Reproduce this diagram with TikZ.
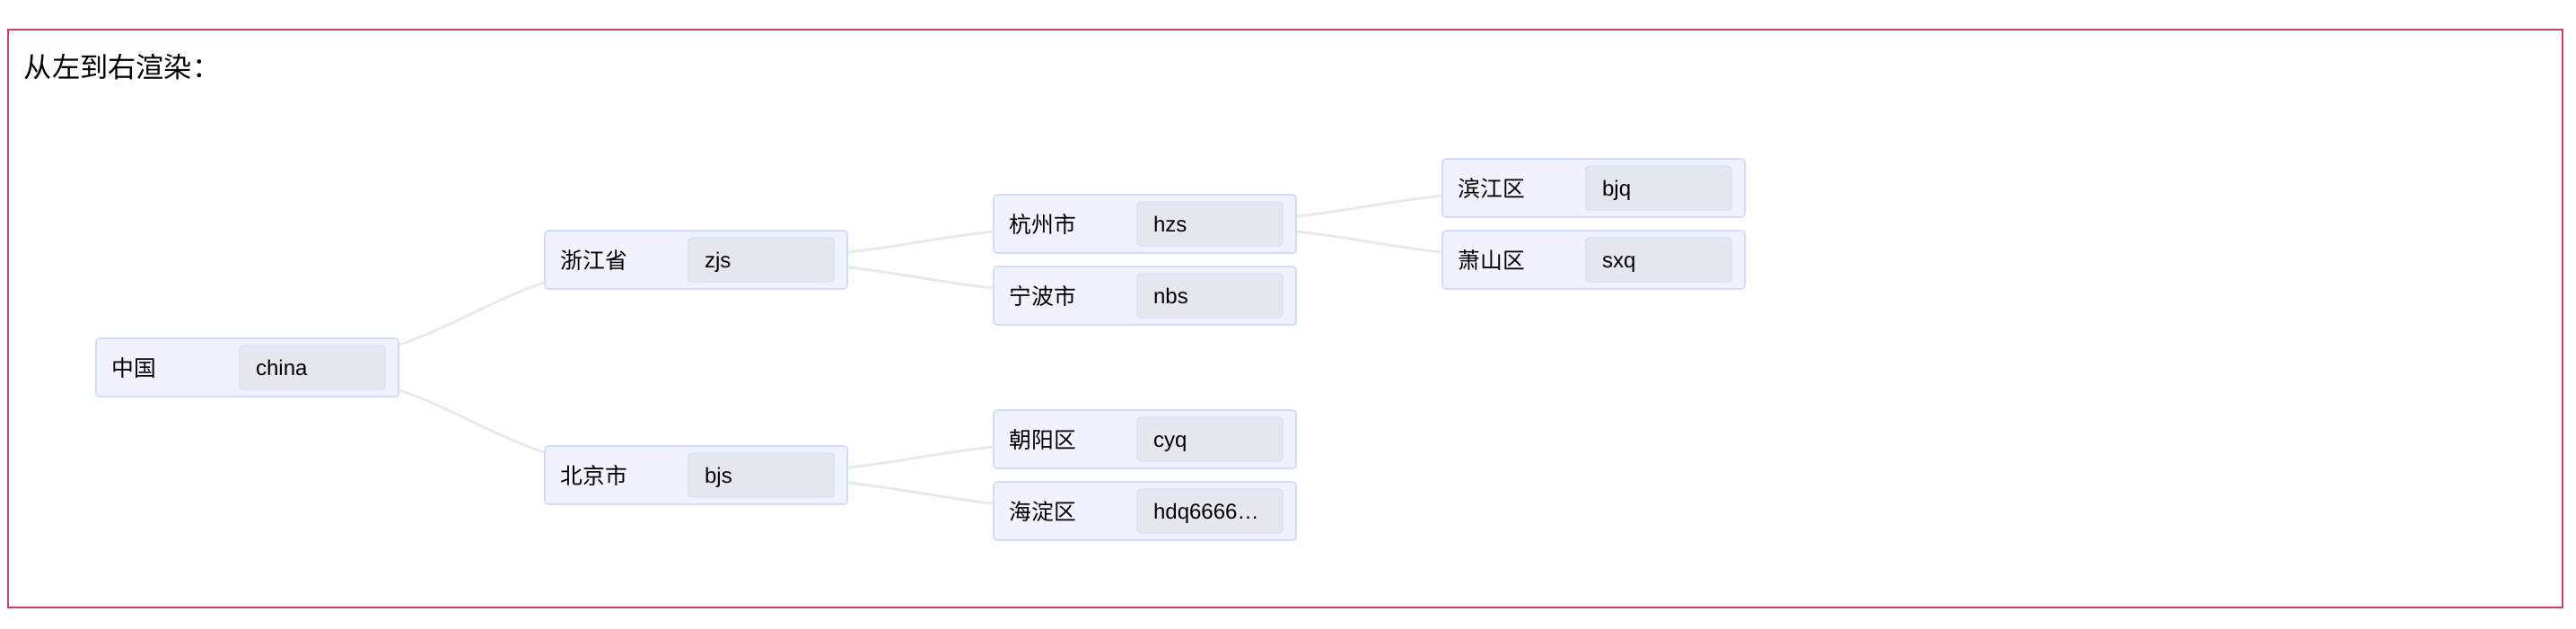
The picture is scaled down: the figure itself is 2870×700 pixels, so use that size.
\documentclass[tikz,border=0pt]{standalone}
\usepackage{fontspec}
\setmainfont{Liberation Sans}
\newfontfamily\cjk{Noto Sans CJK SC}
\usetikzlibrary{calc,backgrounds}
\definecolor{boxfill}{RGB}{240,243,253}
\definecolor{boxborder}{RGB}{212,219,244}
\definecolor{valfill}{RGB}{229,231,239}
\definecolor{valborder}{RGB}{218,223,244}
\definecolor{linkgray}{RGB}{234,234,234}
\definecolor{framec}{RGB}{200,67,106}
\tikzset{
  outerbox/.style={draw=boxborder, fill=boxfill, line width=0.4pt, rounded corners=1pt,
    minimum width=84.25pt, minimum height=16.25pt, inner sep=0pt},
  innerbox/.style={draw=valborder, fill=valfill, line width=0.35pt, rounded corners=1pt,
    minimum width=40.5pt, minimum height=12.25pt, inner sep=0pt},
  lbl/.style={anchor=base west, inner sep=0pt, text=black, font=\cjk\fontsize{6.2pt}{7pt}\selectfont},
  val/.style={anchor=base west, inner sep=0pt, text=black, font=\fontsize{6pt}{7pt}\selectfont},
  link/.style={draw=linkgray, line width=0.75pt},
  titletext/.style={anchor=west, inner sep=0pt, text=black, font=\cjk\fontsize{7.8pt}{9pt}\selectfont},
}
\newcommand\entity[5]{%
  \node[outerbox] (#1) at (#2,#3) {};
  \node[innerbox] (#1-v) at ([xshift=18.125pt]#1.center) {};
  \node[lbl] (#1-l) at ([xshift=4.4pt,yshift=-2.5pt]#1.west) {#4};
  \node[val] (#1-t) at ([xshift=4.5pt,yshift=-2.2pt]#1-v.west) {#5};
}
\newcommand\link[2]{%
  \draw[link] (#1.center) .. controls ($(#1.center)+(250,0)$) and ($(#2.center)+(-250,0)$) .. (#2.center);
}
\begin{document}
\begin{tikzpicture}[x=0.25pt, y=-0.25pt]
  \useasboundingbox (0,0) rectangle (2870,700);
  \draw[framec, line width=0.7pt] (9,33) rectangle (2855,677);
  \node[titletext] (title) at (26,75) {从左到右渲染：};
  \entity{china}{275.5}{409.5}{中国}{china}
  \entity{zj}{775.5}{289.5}{浙江省}{zjs}
  \entity{bj}{775.5}{529.5}{北京市}{bjs}
  \entity{hz}{1275.5}{249.5}{杭州市}{hzs}
  \entity{nb}{1275.5}{329.5}{宁波市}{nbs}
  \entity{cy}{1275.5}{489.5}{朝阳区}{cyq}
  \entity{hd}{1275.5}{569.5}{海淀区}{hdq6666…}
  \entity{bjq}{1775.5}{209.5}{滨江区}{bjq}
  \entity{sxq}{1775.5}{289.5}{萧山区}{sxq}
  \begin{scope}[on background layer]
    \link{china}{zj}
    \link{china}{bj}
    \link{zj}{hz}
    \link{zj}{nb}
    \link{bj}{cy}
    \link{bj}{hd}
    \link{hz}{bjq}
    \link{hz}{sxq}
  \end{scope}
\end{tikzpicture}
\end{document}
